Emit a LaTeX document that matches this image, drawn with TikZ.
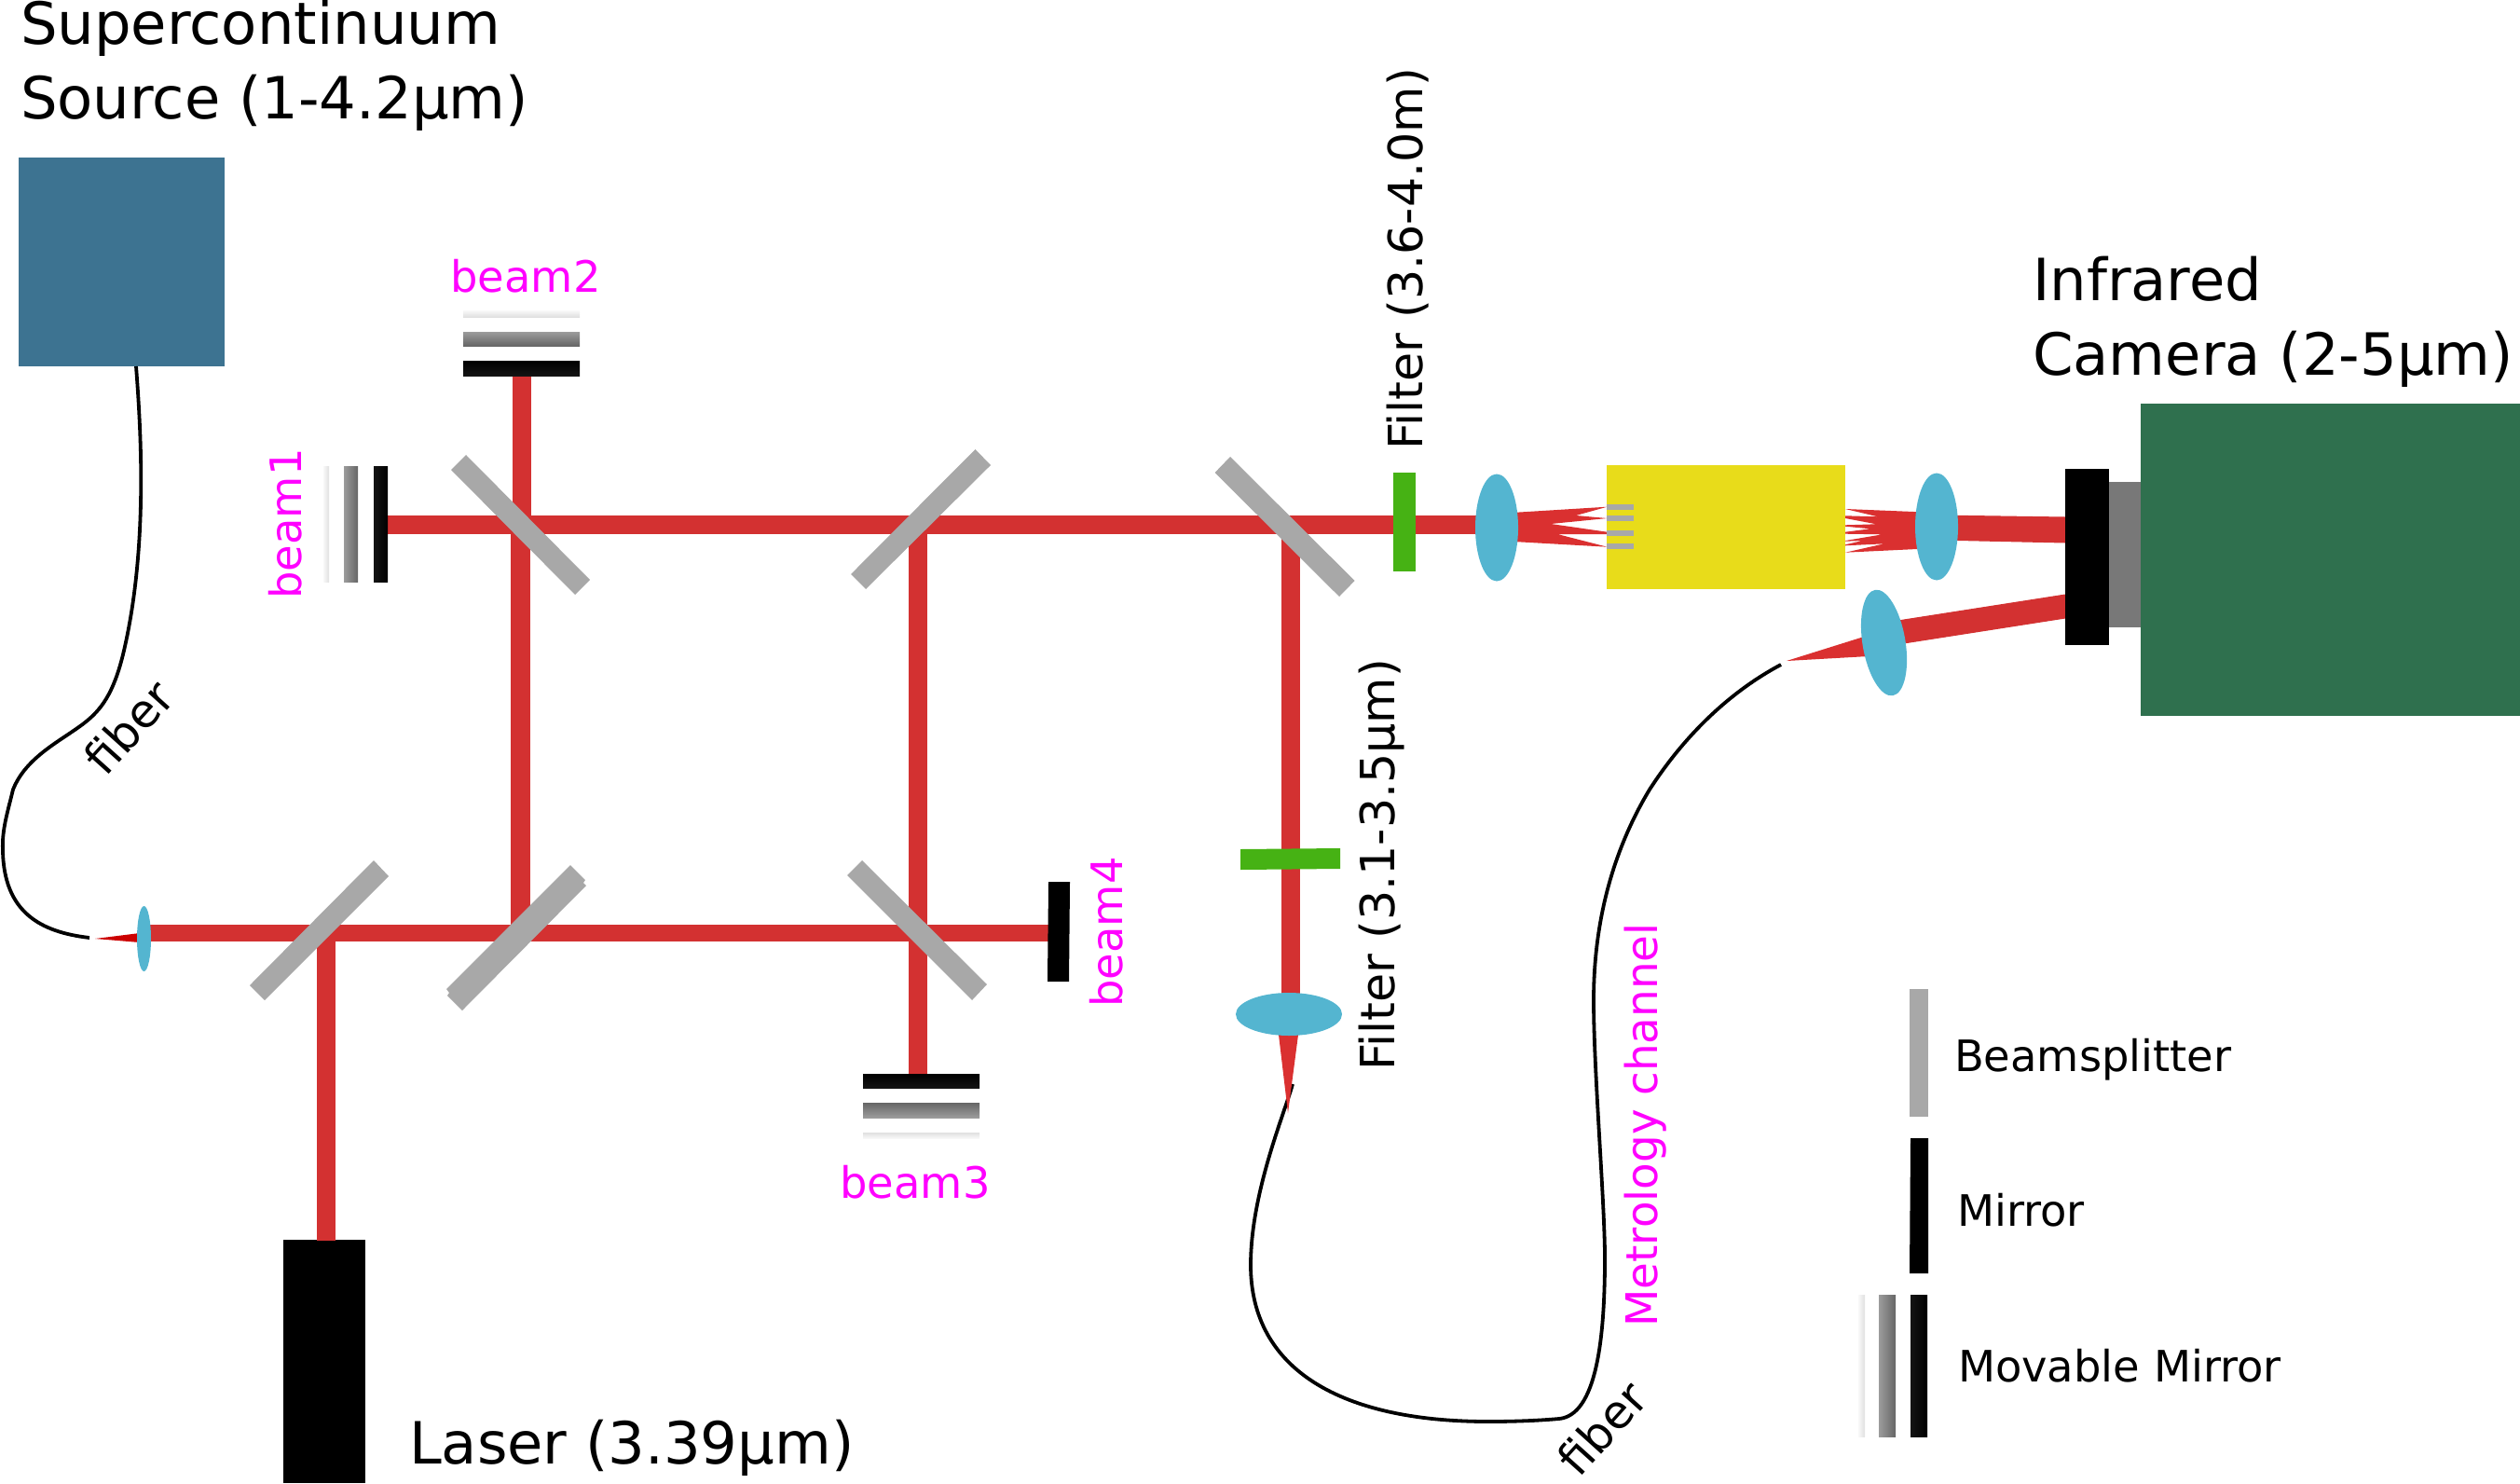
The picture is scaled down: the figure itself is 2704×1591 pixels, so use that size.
\documentclass[tikz,border=0pt]{standalone}
\usepackage{fontspec}
\setmainfont{DejaVu Sans}
\definecolor{beamred}{HTML}{D33131}
\definecolor{taperred}{HTML}{DA3030}
\definecolor{deepred}{HTML}{CC0000}
\definecolor{lensblue}{HTML}{54B5D0}
\definecolor{splitter}{HTML}{A8A8A8}
\definecolor{filtergreen}{HTML}{46B214}
\definecolor{chipyellow}{HTML}{E8DC1A}
\definecolor{sourceblue}{HTML}{3D7391}
\definecolor{cameragreen}{HTML}{2F704E}
\definecolor{camgray}{HTML}{787878}
\definecolor{labelpink}{HTML}{FF00FF}
\definecolor{ghostA}{HTML}{F8F8F8}
\definecolor{ghostB}{HTML}{E0E0E0}
\definecolor{midA}{HTML}{9C9C9C}
\definecolor{midB}{HTML}{666666}
\definecolor{nearA}{HTML}{141414}
\tikzset{
  beam/.style={fill=beamred,draw=beamred,line width=0.01cm},
  taper/.style={fill=taperred},
  split/.style={fill=splitter},
  lens/.style={fill=lensblue},
  filt/.style={fill=filtergreen},
  fibre/.style={draw=black,line width=0.038cm,line cap=butt},
  txt/.style={inner sep=0pt,outer sep=0pt},
  bigtext/.style={txt,anchor=base west,font=\fontsize{17.75}{22}\selectfont},
  legendtext/.style={txt,anchor=base west,font=\fontsize{13.2}{16}\selectfont},
  vertlabel/.style={txt,anchor=base,rotate=90,font=\fontsize{14.4}{17}\selectfont},
  pinklabel/.style={txt,anchor=base,text=labelpink,font=\fontsize{13.2}{16}\selectfont},
  fibrelabel/.style={txt,anchor=center,rotate=48,font=\fontsize{14.1}{17}\selectfont}
}
\newcommand{\lensat}[5]{\fill[lens,shift={(#1,#2)},rotate=#3] (0,0) ellipse [x radius=#4*0.01cm,y radius=#5*0.01cm];}
\begin{document}
\begin{tikzpicture}[x=0.01cm,y=-0.01cm]
\useasboundingbox (0,0) rectangle (2704,1591);

% source, laser and camera bodies
\fill[sourceblue] (20,169) rectangle (241,393);
\fill[black] (304,1330) rectangle (392,1591);
\fill[cameragreen] (2297,433) rectangle (2704,768);
\fill[camgray] (2263,517) rectangle (2297,673);

% anchor points of the optical fibres
\coordinate (srcout) at (146,393);
\coordinate (inputend) at (96,1006);
\coordinate (filterfocus) at (1387,1163);
\coordinate (metroend) at (1911,713);

% optical fibres
\draw[fibre] (srcout) .. controls (152,470) and (158,590) .. (133,698)
  .. controls (122,745) and (108,762) .. (90,776)
  .. controls (65,795) and (28,812) .. (14,847)
  .. controls (8,872) and (2,890) .. (3,912)
  .. controls (4,980) and (45,1000) .. (inputend);
\draw[fibre] (filterfocus) .. controls (1378,1195) and (1342,1280) .. (1342,1357)
  .. controls (1342,1470) and (1440,1525) .. (1597,1525)
  .. controls (1625,1525) and (1650,1524) .. (1673,1522)
  .. controls (1712,1518) and (1722,1440) .. (1722,1350)
  .. controls (1722,1290) and (1710,1150) .. (1710,1073)
  .. controls (1710,980) and (1735,905) .. (1770,847)
  .. controls (1810,785) and (1860,740) .. (metroend);

% beam paths
\path[beam] (416,553) rectangle (1606,572.5);
\path[beam] (550,403) rectangle (569,560);
\path[beam] (548.5,560) rectangle (568,1000);
\path[beam] (975.5,563) rectangle (994.5,1152);
\path[beam] (1375,563) rectangle (1394,1090);
\path[beam] (154,992) rectangle (1125,1009);
\path[beam] (340,1000) rectangle (359,1330);
\path[beam] (2078,553) -- (2216,555) -- (2216,582) -- (2078,579) -- cycle;
\path[beam] (2030,667) -- (2216,638) -- (2216,663) -- (2030,692) -- cycle;

% tapered and fanned beam sections
\fill[fill=deepred] (102,1007) -- (150,1001) -- (150,1011) -- cycle;
\fill[taper] (1372,1110) -- (1393,1110) -- (1382,1194) -- cycle;
\fill[taper] (1917,709) -- (2000,683) -- (2005,704) -- cycle;
\fill[taper] (1606,551) -- (1724.5,543.7) -- (1691,553) -- (1724.5,556) -- (1664,562) -- (1724.5,570.7) -- (1724.5,573) -- (1671,573) -- (1724.5,586.7) -- (1606,580) -- cycle;

% chip with its waveguide stubs
\fill[chipyellow] (1724,499) rectangle (1980,632);
\foreach \ya/\yb in {541/547,553/559,569/575,583/589}
  \fill[split] (1724,\ya) rectangle (1753,\yb);

\fill[taper] (1980,546) -- (2015,554.3) -- (1980,553.3) -- (1980,556) -- (2013.3,562.3) -- (1980,563.3) -- (1980,564.7) -- (2006.7,567.3) -- (1980,570.7) -- (1980,572.7) -- (2020,573.3) -- (1980,580) -- (1980,580.7) -- (1998.3,580) -- (1980,584.3) -- (1980,585.3) -- (2021.7,583.3) -- (1980,592.7) -- (2078,588) -- (2078,550) -- cycle;

% beamsplitters
\fill[split] (500,488) -- (633,622) -- (617,638) -- (484,504) -- cycle;
\fill[split] (1046.5,482) -- (1063,499) -- (929,632) -- (913,616) -- cycle;
\fill[split] (1320,490) -- (1453.6,623) -- (1437,640) -- (1303.6,507) -- cycle;
\fill[split] (401,923) -- (417,940) -- (284,1073) -- (268,1057) -- cycle;
\fill[split] (612,928) -- (628,944) -- (626,947) -- (629,950) -- (496,1084) -- (480,1068) -- (482,1065) -- (479,1061) -- cycle;
\fill[split] (925,923) -- (1059,1056) -- (1043,1073) -- (909,939) -- cycle;

% filters
\fill[filt] (1495,507) rectangle (1519,613);
\fill[filt] (1331,911) -- (1438,910) -- (1438,932) -- (1331,933) -- cycle;

% lenses
\lensat{154.5}{1007}{0}{7.5}{35}
\lensat{1606}{566}{0}{23}{57.5}
\lensat{2078}{565}{0}{23}{57.5}
\lensat{2021.5}{689.5}{9.5}{23}{57.5}
\lensat{1383}{1088}{0}{57}{23}

% fixed mirrors
\fill[black] (2216,503) rectangle (2263,692);
\fill[black] (1125,946) -- (1148,946) -- (1147,1053) -- (1124,1053) -- cycle;

% movable mirror, beam 1
\shade[left color=ghostA,right color=ghostB] (347,500) rectangle (353,624);
\shade[left color=midA,right color=midB] (369,500) rectangle (384,624);
\shade[left color=nearA,right color=black] (401,500) rectangle (416,624);
% movable mirror, beam 2
\shade[top color=ghostA,bottom color=ghostB] (497,333) rectangle (622,340);
\shade[top color=midA,bottom color=midB] (497,356) rectangle (622,371);
\shade[top color=black,bottom color=nearA] (497,387) rectangle (622,403);
% movable mirror, beam 3
\shade[top color=black,bottom color=nearA] (926,1152) rectangle (1051,1167);
\shade[top color=midB,bottom color=midA] (926,1183) rectangle (1051,1199);
\shade[top color=ghostB,bottom color=ghostA] (926,1215) rectangle (1051,1221);

% legend symbols
\fill[split] (2049,1061) rectangle (2069,1198);
\fill[black] (2050,1221) -- (2069,1221) -- (2069,1366) -- (2049,1366) -- cycle;
\shade[left color=ghostA,right color=ghostB] (1994,1389) rectangle (2001,1541);
\shade[left color=midA,right color=midB] (2016,1389) rectangle (2034,1541);
\shade[left color=nearA,right color=black] (2050,1389) rectangle (2068,1541);

% labels
\node[bigtext] (srcA) at (22,48) {Supercontinuum};
\node[bigtext] (srcB) at (22,127) {Source (1-4.2µm)};
\node[bigtext] (camA) at (2181,322) {Infrared};
\node[bigtext] (camB) at (2181,402) {Camera (2-5µm)};
\node[bigtext] (laser) at (439,1570) {Laser (3.39µm)};
\node[vertlabel] (filtA) at (1526,278) {Filter (3.6-4.0m)};
\node[vertlabel] (filtB) at (1496,928) {Filter (3.1-3.5µm)};
\node[pinklabel] (beamb) at (564,313) {beam2};
\node[pinklabel] (beamc) at (982,1285) {beam3};
\node[pinklabel,rotate=90] (beama) at (323,562) {beam1};
\node[pinklabel,rotate=90] (beamd) at (1204,1000) {beam4};
\node[pinklabel,rotate=90,font=\fontsize{13.3}{16}\selectfont] (metro) at (1778,1207) {Metrology channel};
\node[fibrelabel] (fibA) at (138,780) {fiber};
\node[fibrelabel] (fibB) at (1719,1532) {fiber};
\node[legendtext] (lgA) at (2097,1149) {Beamsplitter};
\node[legendtext] (lgB) at (2100,1315) {Mirror};
\node[legendtext] (lgC) at (2101,1482) {Movable Mirror};
\end{tikzpicture}
\end{document}
